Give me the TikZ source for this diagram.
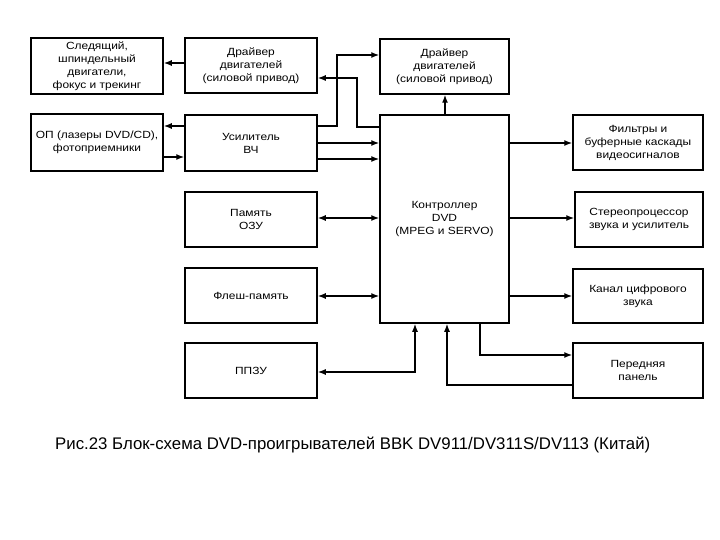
\documentclass[tikz,border=0pt]{standalone}
\usepackage{fontspec}
\setmainfont{Liberation Sans}
\newfontfamily\boxfont[FakeStretch=1.15]{Liberation Sans}
\usetikzlibrary{arrows.meta}
\begin{document}
\begin{tikzpicture}[x=1pt,y=-1pt,
  blk/.style={draw, line width=1.5pt, rectangle, align=center, inner sep=0pt,
    font=\boxfont\fontsize{10.4}{13}\selectfont},
  arr/.style={line width=1.4pt, -{Latex[length=8pt,width=6pt]}},
  arrb/.style={line width=1.4pt, {Latex[length=8pt,width=6pt]}-{Latex[length=8pt,width=6pt]}}]
\useasboundingbox (0,0) rectangle (720,540);
% boxes
\node[blk, minimum width=132pt, minimum height=56pt] (A) at (97,66) {Следящий,\\шпиндельный\\двигатели,\\фокус и трекинг};
\node[blk, minimum width=132pt, minimum height=55pt] (B) at (251,65.5) {Драйвер\\двигателей\\(силовой привод)};
\node[blk, minimum width=129pt, minimum height=55pt] (D) at (444.5,66.5) {Драйвер\\двигателей\\(силовой привод)};
\node[blk, minimum width=132pt, minimum height=57pt] (C) at (97,142.5) {ОП (лазеры DVD/CD),\\фотоприемники};
\node[blk, minimum width=132pt, minimum height=56pt] (V) at (251,143) {Усилитель\\ВЧ};
\node[blk, minimum width=129pt, minimum height=208pt] (K) at (444.5,219) {Контроллер\\DVD\\(MPEG и SERVO)};
\node[blk, minimum width=130pt, minimum height=55pt] (Fi) at (638,142.5) {Фильтры и\\буферные каскады\\видеосигналов};
\node[blk, minimum width=132pt, minimum height=55pt] (Z) at (251,219.5) {Память\\ОЗУ};
\node[blk, minimum width=128pt, minimum height=55pt] (S) at (639,219.5) {Стереопроцессор\\звука и усилитель};
\node[blk, minimum width=132pt, minimum height=55pt] (F) at (251,295.5) {Флеш-память};
\node[blk, minimum width=130pt, minimum height=54pt] (G) at (638,296) {Канал цифрового\\звука};
\node[blk, minimum width=132pt, minimum height=55pt] (P) at (251,370.5) {ППЗУ};
\node[blk, minimum width=130pt, minimum height=55pt] (N) at (638,370.5) {Передняя\\панель};
% caption
\node[anchor=west, inner sep=0pt, font=\fontsize{16.8}{19}\selectfont] (cap) at (55,445) {Рис.23 Блок-схема DVD-проигрывателей BBK DV911/DV311S/DV113 (Китай)};
% connectors
\draw[arr] (B.west |- 0,63) -- (A.east |- 0,63);
\draw[arr] (V.west |- 0,126) -- (C.east |- 0,126);
\draw[arr] (C.east |- 0,157) -- (V.west |- 0,157);
\draw[arr] (V.east |- 0,126) -| (337,55) -- (D.west |- 0,55);
\draw[arr] (K.west |- 0,127) -- (357,127) |- (B.east |- 0,78);
\draw[arr] (V.east |- 0,143) -- (K.west |- 0,143);
\draw[arr] (V.east |- 0,159) -- (K.west |- 0,159);
\draw[arrb] (Z.east |- 0,218) -- (K.west |- 0,218);
\draw[arrb] (F.east |- 0,296) -- (K.west |- 0,296);
\draw[arrb] (P.east |- 0,372) -| (K.south -| 415,0);
\draw[arr] (N.west |- 0,385) -| (K.south -| 447,0);
\draw[arr] (K.south -| 480,0) |- (N.west |- 0,355);
\draw[arr] (K.east |- 0,143) -- (Fi.west |- 0,143);
\draw[arr] (K.east |- 0,218) -- (S.west |- 0,218);
\draw[arr] (K.east |- 0,296) -- (G.west |- 0,296);
\draw[arr] (K.north -| 445,0) -- (D.south -| 445,0);
\end{tikzpicture}
\end{document}
